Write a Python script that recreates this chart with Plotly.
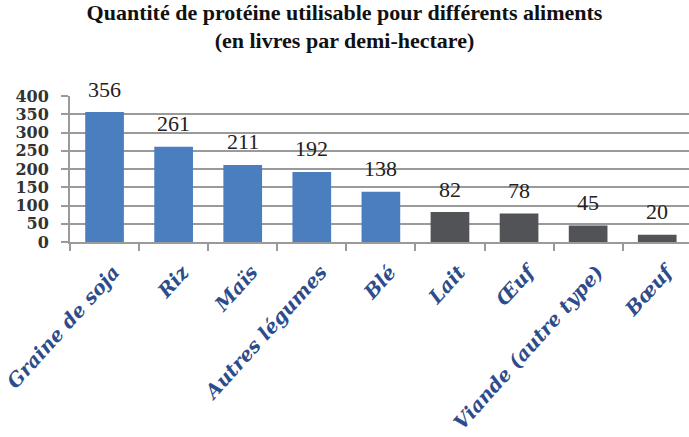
import plotly.graph_objects as go

# data
aliments = ["Graine de soja", "Riz", "Maïs", "Autres légumes", "Blé",
            "Lait", "Œuf", "Viande (autre type)", "Bœuf"]
proteine = [356, 261, 211, 192, 138, 82, 78, 45, 20]
groupe = ["vegetal"] * 5 + ["animal"] * 4
y_ticks = [0, 50, 100, 150, 200, 250, 300, 350, 400]

BLUE = "#4a7ebf"
DARK = "#515356"
GRID = "#9a9a9a"
NAVY = "#2d4c8c"

colors = [BLUE if g == "vegetal" else DARK for g in groupe]

fig = go.Figure()
fig.add_trace(go.Bar(
    x=aliments, y=proteine,
    marker=dict(color=colors, line=dict(width=0)),
    width=0.56,
    hoverinfo="x+y",
))

# data labels above bars
for a, v in zip(aliments, proteine):
    fig.add_annotation(x=a, y=v, text=str(v), showarrow=False,
                       yanchor="middle", yshift=23,
                       font=dict(family="Liberation Serif", size=22, color="#222222"))

fig.update_layout(
    width=689, height=437,
    paper_bgcolor="white", plot_bgcolor="white",
    margin=dict(l=70, r=0, t=96, b=195),
    showlegend=False,
    title=dict(
        text="Quantité de protéine utilisable pour différents aliments<br>(en livres par demi-hectare)",
        x=0.5, xanchor="center", y=0.955, yanchor="top",
        font=dict(family="Liberation Serif", size=22, color="#111111", weight="bold"),
    ),
)
fig.update_xaxes(
    type="category", range=[-0.5, 8.46], automargin=False,
    showline=True, linecolor=GRID, linewidth=2,
    ticks="outside", tickson="boundaries", ticklen=7, tickcolor=GRID, tickwidth=2,
    tickangle=-48, showgrid=False,
    ticklabelstandoff=9, ticklabelshift=9,
    tickfont=dict(family="DejaVu Serif", size=19.5, color=NAVY, weight="bold", style="italic"),
)
fig.update_yaxes(
    range=[0, 400], tickvals=y_ticks, automargin=False,
    showgrid=True, gridcolor=GRID, gridwidth=2,
    showline=True, linecolor=GRID, linewidth=2,
    ticks="outside", ticklen=7, tickcolor=GRID, tickwidth=2,
    ticklabelstandoff=9,
    zeroline=False,
    tickfont=dict(family="DejaVu Serif", size=16, color="#333333", weight="bold"),
)

fig.write_html("out.html", config={"displayModeBar": False},
               post_script="document.body.style.margin='0';")
